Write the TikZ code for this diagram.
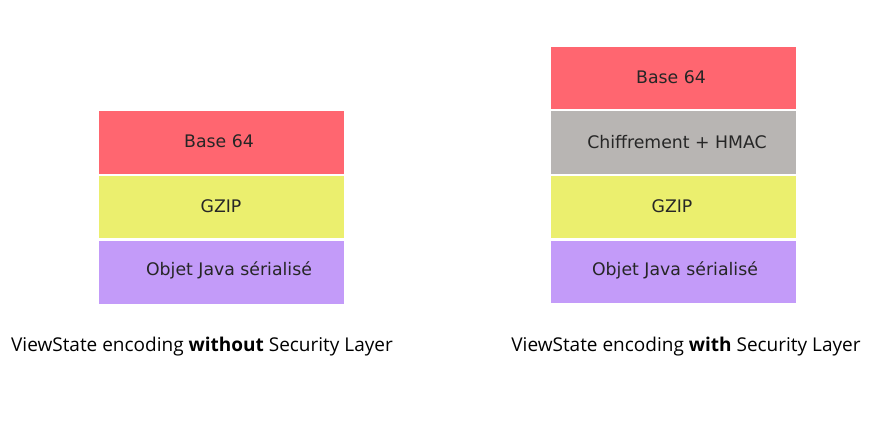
\documentclass[tikz,border=0pt]{standalone}
\usepackage{fontspec}
\newfontfamily\boxfont{DejaVu Sans}
\newfontfamily\capfont{Open Sans}
\definecolor{cred}{HTML}{FF6670}
\definecolor{cyel}{HTML}{EBEF6E}
\definecolor{cpur}{HTML}{C39BF9}
\definecolor{cgry}{HTML}{B8B5B3}
\begin{document}
\begin{tikzpicture}[x=1pt,y=-1pt,
  ltext/.style={font=\boxfont\fontsize{17.3}{20}\selectfont,text=black!85,inner sep=0pt},
  captext/.style={font=\capfont\fontsize{19}{22}\selectfont,inner sep=0pt}]
\useasboundingbox[fill=white] (0,0) rectangle (875,424);
% left stack
\fill[cred] (99,111) rectangle (344,174);
\fill[cyel] (99,176) rectangle (344,238);
\fill[cpur] (99,241) rectangle (344,304);
\node[ltext] (lb) at (219,141) {Base 64};
\node[ltext] (lg) at (221,206) {GZIP};
\node[ltext] (lo) at (229,270) {Objet Java sérialisé};
% right stack
\fill[cred] (551,47) rectangle (796,109);
\fill[cgry] (551,111) rectangle (796,174);
\fill[cyel] (551,176) rectangle (796,238);
\fill[cpur] (551,241) rectangle (796,303);
\node[ltext] (rb) at (671,77) {Base 64};
\node[ltext] (rc) at (677,142) {Chiffrement + HMAC};
\node[ltext] (rg) at (672,206) {GZIP};
\node[ltext] (ro) at (675,270) {Objet Java sérialisé};
% captions
\node[captext] (cl) at (202,347) {ViewState encoding \textbf{without} Security Layer};
\node[captext] (cr) at (686,347) {ViewState encoding \textbf{with} Security Layer};
\end{tikzpicture}
\end{document}
